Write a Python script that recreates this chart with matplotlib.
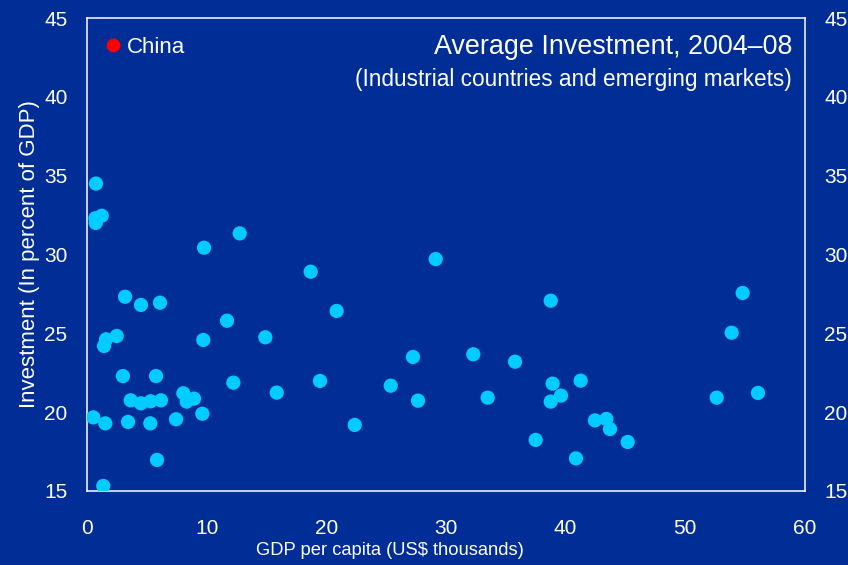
import matplotlib.pyplot as plt
from matplotlib.lines import Line2D

plt.rcParams['font.family'] = ['Liberation Sans', 'DejaVu Sans']

# GDP per capita (US$ thousands) and investment (% of GDP), 2004-08 averages
gdp = [0.75, 0.70, 1.23, 0.73, 9.78, 12.76, 3.18, 4.51, 6.10, 11.70,
       1.59, 1.42, 2.48, 9.72, 14.90, 3.00, 5.77, 12.23, 15.85, 3.65,
       4.51, 5.32, 6.18, 8.05, 8.33, 8.94, 9.64, 7.44, 0.53, 1.53,
       3.43, 5.29, 5.85, 1.36, 18.69, 29.14, 20.86, 27.24, 19.47, 25.38,
       27.66, 22.37, 38.75, 32.28, 35.77, 33.48, 38.91, 41.25, 39.61, 38.75,
       42.45, 43.40, 43.70, 45.18, 37.49, 40.86, 54.79, 53.87, 52.62, 56.07]
investment = [34.5, 32.3, 32.46, 32.0, 30.43, 31.34, 27.32, 26.80, 26.94, 25.80,
              24.62, 24.20, 24.83, 24.58, 24.75, 22.29, 22.29, 21.87, 21.24, 20.75,
              20.56, 20.69, 20.75, 21.20, 20.67, 20.86, 19.90, 19.55, 19.67, 19.29,
              19.38, 19.29, 16.97, 15.32, 28.91, 29.71, 26.42, 23.50, 21.98, 21.68,
              20.73, 19.19, 27.07, 23.67, 23.20, 20.92, 21.81, 22.00, 21.05, 20.67,
              19.48, 19.57, 18.93, 18.11, 18.24, 17.07, 27.56, 25.04, 20.92, 21.22]

xticks = [0, 10, 20, 30, 40, 50, 60]
yticks = [15, 20, 25, 30, 35, 40, 45]

bg = '#002D96'
dot = '#00CCFF'

fig = plt.figure(figsize=(8.48, 5.65), dpi=100, facecolor=bg)
ax = fig.add_axes([0.1026, 0.131, 0.8467, 0.8371], facecolor=bg)

ax.scatter(gdp, investment, s=105, color=dot, edgecolors='none', zorder=3)

ax.set_xlim(0, 60)
ax.set_ylim(15, 45)
ax.set_xticks(xticks)
ax.set_yticks(yticks)
for s in ax.spines.values():
    s.set_color('white')
    s.set_linewidth(1.1)
ax.tick_params(axis='both', length=0, colors='white', labelsize=15)
ax.tick_params(axis='x', pad=20)
ax.tick_params(axis='y', pad=14, labelright=True)

ax.set_xlabel('GDP per capita (US$ thousands)', color='white', fontsize=13.2)
ax.xaxis.set_label_coords(0.422, -0.108)
ax.set_ylabel('Investment (In percent of GDP)', color='white', fontsize=16, labelpad=3)

ax.text(0.982, 0.939, 'Average Investment, 2004–08', transform=ax.transAxes,
        ha='right', va='center', color='white', fontsize=19.4)
ax.text(0.982, 0.871, '(Industrial countries and emerging markets)', transform=ax.transAxes,
        ha='right', va='center', color='white', fontsize=16.3)

china = Line2D([], [], marker='o', linestyle='none', markersize=10,
               markerfacecolor='red', markeredgecolor='none', label='China')
leg = ax.legend(handles=[china], loc='upper left', bbox_to_anchor=(-0.007, 1.002),
                frameon=False, fontsize=16, handlelength=1.0, handletextpad=0.1,
                borderaxespad=0.5)
for t in leg.get_texts():
    t.set_color('white')

plt.savefig('out.png', dpi=100, facecolor=bg)
plt.close()
